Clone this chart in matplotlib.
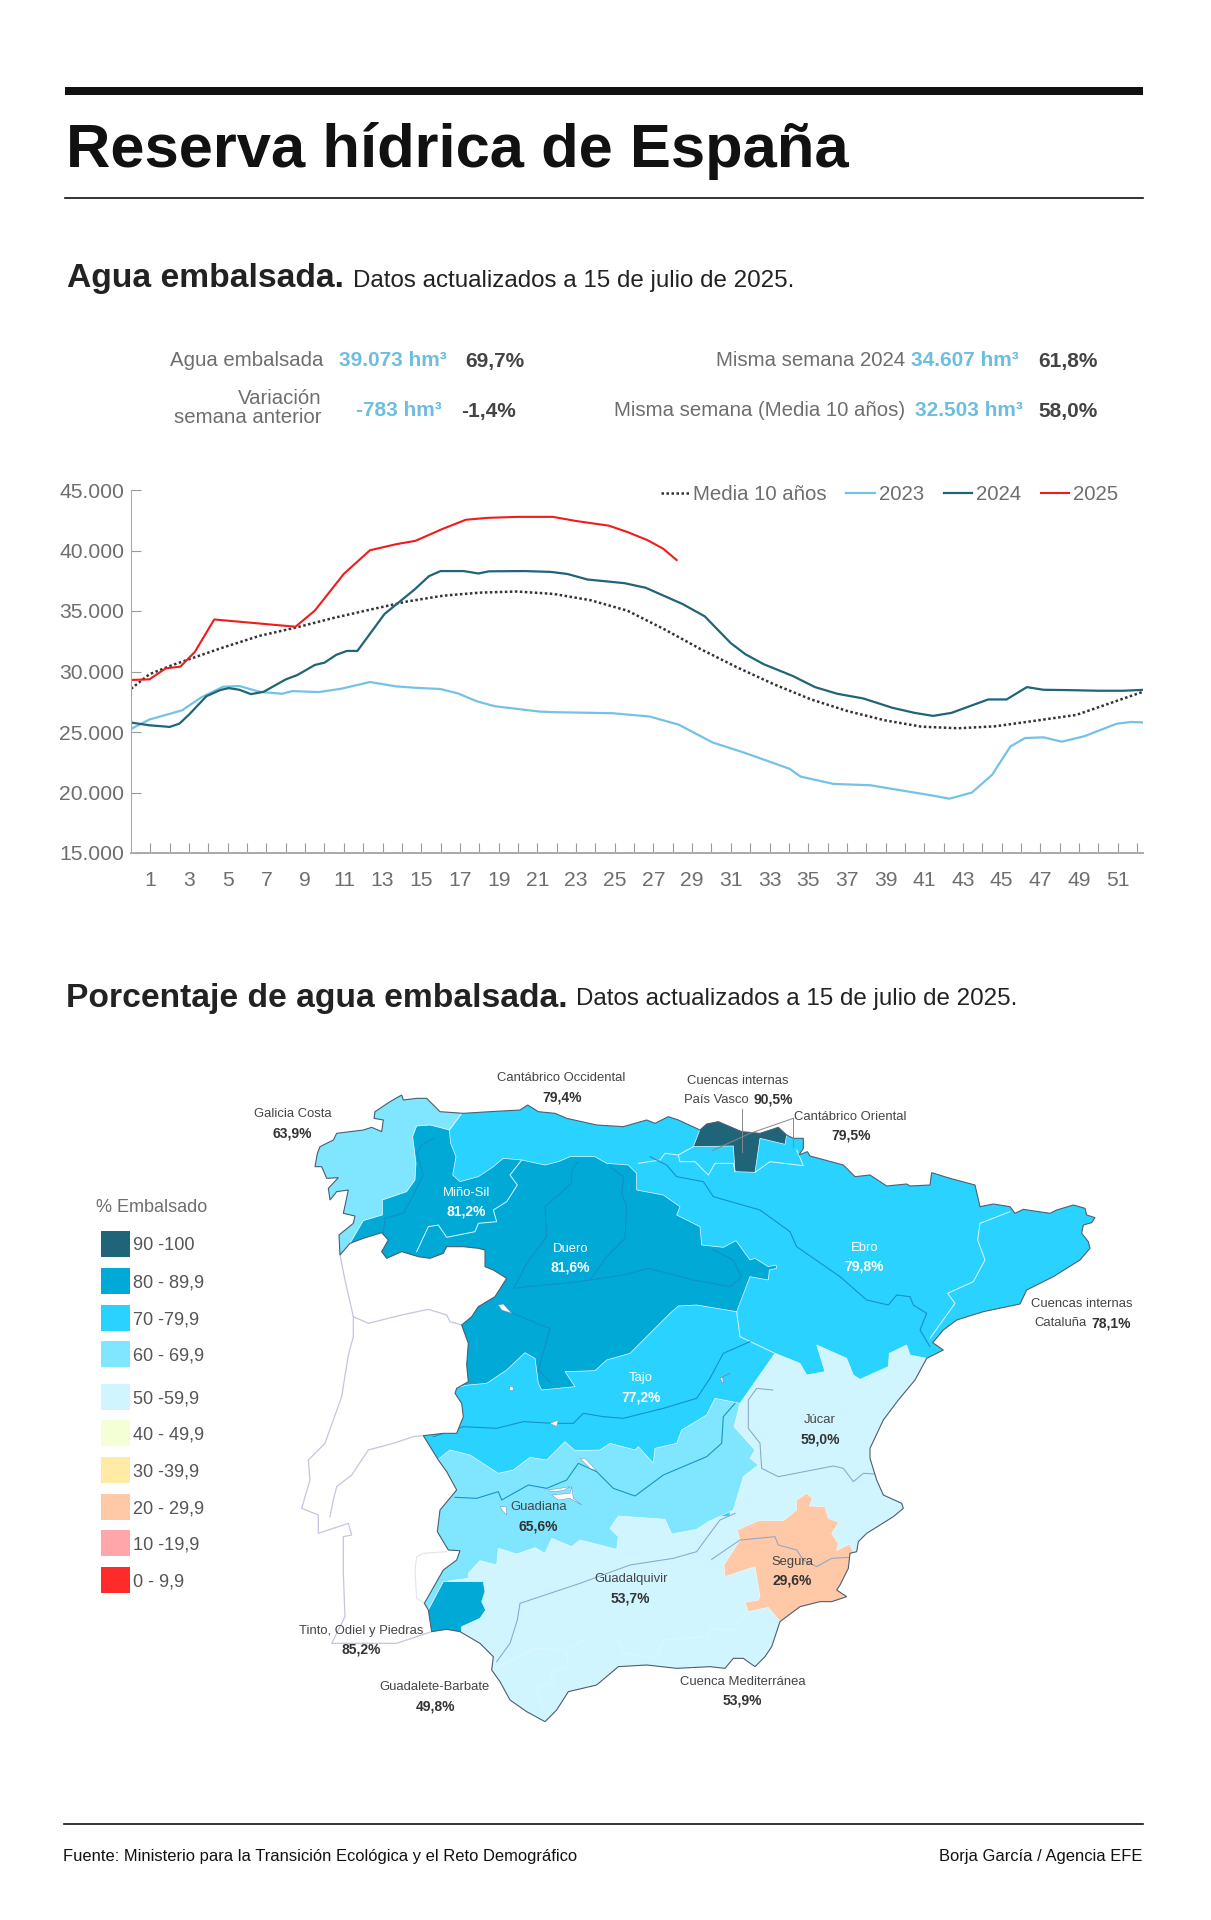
import matplotlib
matplotlib.use("Agg")
import matplotlib.pyplot as plt
from matplotlib.patches import Polygon, Rectangle

# --- chart data: (week position, hm3)
week_2023 = [0, .95, 2, 2.65, 3.6, 4.75, 5.6, 6.65, 7.8, 8.35, 9.7, 10.85, 12.35, 13.7, 14.65, 16, 16.9, 17.85,
             18.8, 21.1, 21.85, 24.9, 26.8, 28.3, 30.05, 31.75, 34.05, 34.6, 35.15, 36.3, 38.2, 41.45, 42.3,
             43.45, 44.5, 45.45, 46.2, 47.15, 48.1, 49.25, 50.95, 51.7, 52.4]
vals_2023 = [25250, 26030, 26500, 26800, 27830, 28740, 28800, 28320, 28160, 28380, 28300, 28570, 29130, 28770,
             28660, 28550, 28190, 27550, 27130, 26690, 26640, 26550, 26280, 25610, 24140, 23260, 21950, 21320,
             21120, 20710, 20600, 19740, 19490, 19990, 21460, 23810, 24500, 24560, 24200, 24640, 25690, 25830, 25780]
week_2024 = [0, .95, 2, 2.5, 3, 3.9, 4.6, 5.05, 5.6, 6.2, 6.85, 8, 8.6, 9.5, 10, 10.6, 11.15, 11.7, 13.1, 14.65,
             15.4, 16, 17.2, 17.95, 18.5, 20.35, 21.7, 22.55, 23.6, 24.5, 25.5, 26.6, 28.5, 29.65, 31, 31.75,
             32.7, 34.2, 35.35, 36.5, 37.85, 39.35, 40.5, 41.45, 42.4, 44.3, 45.25, 46.3, 47.15, 48.5, 50, 51.3, 52.4]
vals_2024 = [25780, 25555, 25420, 25690, 26440, 27960, 28460, 28630, 28490, 28130, 28320, 29350, 29710, 30540,
             30730, 31370, 31700, 31700, 34750, 36770, 37880, 38300, 38300, 38100, 38280, 38300, 38230, 38060,
             37600, 37460, 37300, 36920, 35580, 34560, 32340, 31430, 30600, 29630, 28710, 28160, 27770, 27000,
             26580, 26330, 26580, 27690, 27690, 28710, 28490, 28460, 28410, 28410, 28490]
week_2025 = [0, .95, 1.8, 2.55, 3.3, 4.3, 8.5, 9.5, 11, 12.35, 13.7, 14.7, 16.1, 17.3, 18.45, 20, 21.8, 23, 24.7,
             25.7, 26.7, 27.5, 28.2]
vals_2025 = [29300, 29350, 30260, 30400, 31620, 34300, 33700, 35030, 38070, 40020, 40520, 40800, 41780, 42540,
             42700, 42780, 42780, 42440, 42050, 41500, 40850, 40150, 39210]
week_media = [0, .95, 2.1, 3.25, 4.75, 6.65, 8.55, 10.45, 12.35, 14.25, 16.15, 18.05, 19.95, 21.85, 23.75, 25.65,
              27.55, 29.45, 31.35, 33.25, 35.15, 37.05, 38.95, 40.85, 42.75, 44.65, 46.55, 48.85, 50.4, 52.4]
vals_media = [28570, 29770, 30510, 31150, 31980, 32950, 33640, 34420, 35110, 35780, 36270, 36520, 36610, 36410,
              35890, 35030, 33500, 31840, 30320, 28930, 27690, 26720, 25970, 25440, 25310, 25470, 25890, 26410,
              27270, 28380]
y_ticks = [15000, 20000, 25000, 30000, 35000, 40000, 45000]
y_labels = ["15.000", "20.000", "25.000", "30.000", "35.000", "40.000", "45.000"]

legend_labels = ["90 -100", "80 - 89,9", "70 -79,9", "60 - 69,9", "50 -59,9", "40 - 49,9", "30 -39,9", "20 - 29,9",
                 "10 -19,9", "0 - 9,9"]
legend_colors = ["#1F6478", "#00A9D6", "#29D2FF", "#80E5FF", "#D1F5FF", "#F5FFD6", "#FFEBA6", "#FFC8A6", "#FFA6AB",
                 "#FF2A2A"]

# --- map outlines, in map units (3 units = 1 px)
coast = [(330, 615), (327, 555), (370, 520), (375, 498), (340, 490), (355, 420), (320, 425), (300, 450), (295, 415),
         (325, 383), (290, 385), (275, 350), (255, 350), (262, 310), (270, 290), (310, 270), (320, 250), (400, 240),
         (425, 232), (455, 245), (460, 210), (432, 205), (435, 185), (480, 155), (515, 135), (520, 150), (560, 145),
         (590, 145), (630, 185), (700, 190), (780, 185), (870, 180), (893, 165), (925, 185), (975, 190), (1010, 205),
         (1100, 225), (1180, 230), (1250, 210), (1275, 220), (1315, 200), (1345, 210), (1410, 240), (1430, 222),
         (1465, 215), (1535, 245), (1590, 250), (1645, 232), (1670, 255), (1690, 265), (1720, 265), (1720, 295),
         (1707, 315), (1732, 305), (1740, 318), (1840, 345), (1875, 380), (1920, 375), (1970, 408), (2030, 402),
         (2040, 408), (2100, 405), (2105, 368), (2160, 385), (2235, 405), (2250, 470), (2290, 462), (2340, 470),
         (2355, 490), (2380, 478), (2460, 490), (2480, 480), (2530, 465), (2565, 475), (2570, 495), (2595, 503),
         (2585, 518), (2560, 525), (2555, 550), (2575, 575), (2580, 595), (2550, 630), (2470, 680), (2390, 720),
         (2370, 762), (2260, 785), (2180, 810), (2140, 840), (2108, 878), (2140, 900), (2090, 925), (2055, 990),
         (2005, 1050), (1960, 1110), (1920, 1195), (1920, 1225), (1940, 1290), (1960, 1335), (2015, 1360),
         (2020, 1375), (1990, 1400), (1950, 1425), (1910, 1450), (1885, 1475), (1880, 1505), (1860, 1510),
         (1855, 1555), (1830, 1605), (1820, 1620), (1850, 1640), (1805, 1655), (1770, 1655), (1710, 1670),
         (1650, 1715), (1625, 1790), (1605, 1820), (1575, 1850), (1540, 1825), (1510, 1825), (1485, 1855),
         (1440, 1850), (1340, 1855), (1250, 1845), (1165, 1850), (1100, 1905), (1015, 1925), (980, 1980),
         (945, 2015), (890, 1985), (840, 1950), (810, 1895), (785, 1860), (790, 1820), (750, 1780), (690, 1745),
         (650, 1738), (605, 1745), (595, 1680), (583, 1660), (640, 1560), (680, 1530), (690, 1502), (655, 1500),
         (622, 1445), (630, 1380), (680, 1320), (650, 1265), (625, 1230), (580, 1157), (640, 1150), (680, 1150),
         (700, 1100), (695, 1060), (675, 1030), (680, 1015), (715, 995), (710, 945), (715, 880), (695, 825),
         (725, 800), (745, 770), (795, 740), (830, 685), (790, 660), (765, 650), (765, 600), (745, 595), (700, 590),
         (650, 590), (640, 610), (600, 625), (565, 620), (515, 605), (470, 625), (455, 605), (475, 570), (455, 548),
         (400, 565), (360, 580)]
galicia = [(695, 190), (658, 240), (600, 225), (560, 228), (548, 260), (558, 340), (555, 390), (530, 425), (457, 450),
           (457, 495), (400, 512), (360, 580), (325, 625), (200, 600), (200, 100), (695, 100)]
duero = [(600, 225), (560, 228), (548, 260), (558, 340), (555, 390), (530, 425), (457, 450), (457, 495), (400, 512),
         (360, 580), (340, 700), (600, 900), (690, 1010), (715, 1005), (770, 1000), (830, 960), (885, 908), (915, 925),
         (925, 1000), (935, 1020), (1035, 1010), (1005, 965), (1095, 962), (1130, 930), (1200, 910), (1260, 850),
         (1320, 790), (1345, 768), (1400, 765), (1520, 785), (1560, 680), (1615, 690), (1618, 660), (1640, 655),
         (1638, 645), (1615, 650), (1575, 625), (1560, 630), (1518, 572), (1480, 592), (1415, 585), (1410, 530),
         (1340, 495), (1350, 470), (1300, 435), (1220, 420), (1220, 370), (1195, 345), (1130, 340), (1095, 320),
         (1020, 320), (985, 335), (945, 345), (875, 330), (820, 325), (790, 350), (745, 380), (690, 395), (668, 375),
         (678, 320), (662, 280), (658, 240)]
south = [(1500, 1400), (1500, 1060), (1530, 1060), (1635, 910), (1710, 940), (1730, 975), (1785, 965), (1760, 885),
         (1850, 925), (1870, 975), (1890, 988), (1975, 950), (1978, 910), (2030, 885), (2040, 915), (2090, 925),
         (2200, 925), (2200, 2100), (400, 2100), (400, 1400)]
guadiana = [(622, 1230), (660, 1200), (720, 1215), (805, 1270), (850, 1260), (900, 1222), (950, 1230), (1005, 1175),
            (1035, 1202), (1110, 1200), (1140, 1180), (1215, 1200), (1225, 1190), (1270, 1240), (1275, 1195),
            (1340, 1180), (1355, 1140), (1430, 1095), (1455, 1045), (1530, 1060), (1512, 1130), (1575, 1200),
            (1560, 1225), (1585, 1245), (1540, 1280), (1510, 1380), (1435, 1415), (1400, 1438), (1325, 1452),
            (1305, 1408), (1165, 1398), (1140, 1435), (1165, 1460), (1160, 1498), (1050, 1470), (1025, 1490),
            (965, 1465), (945, 1510), (915, 1493), (860, 1512), (805, 1495), (800, 1545), (750, 1532), (715, 1570),
            (715, 1585), (640, 1595), (595, 1680), (500, 1680), (500, 1230)]
segura = [(1730, 1330), (1747, 1345), (1738, 1368), (1785, 1370), (1795, 1405), (1827, 1417), (1805, 1450),
          (1825, 1480), (1820, 1502), (1858, 1482), (1870, 1505), (1900, 1560), (1900, 1700), (1650, 1730),
          (1650, 1715), (1615, 1672), (1555, 1685), (1545, 1657), (1585, 1650), (1590, 1640), (1575, 1550),
          (1515, 1570), (1485, 1580), (1482, 1545), (1530, 1470), (1522, 1440), (1585, 1412), (1660, 1412),
          (1700, 1380), (1700, 1350)]
tinto = [(640, 1595), (760, 1595), (765, 1625), (755, 1655), (767, 1680), (750, 1705), (695, 1730), (695, 1760),
         (560, 1780), (560, 1680), (595, 1680)]
vasco = [(1390, 290), (1415, 225), (1430, 180), (1680, 180), (1670, 255), (1665, 283), (1590, 265), (1575, 367),
         (1515, 365), (1510, 288)]
lakes = [[(805, 765), (820, 762), (845, 790), (815, 780)],
         [(838, 1022), (850, 1020), (848, 1008), (840, 1010)],
         [(960, 1120), (985, 1110), (980, 1130)],
         [(1470, 985), (1500, 970), (1478, 980), (1480, 1002)],
         [(1050, 1225), (1065, 1225), (1100, 1262), (1080, 1255)],
         [(955, 1320), (990, 1315), (1020, 1310), (1000, 1322), (960, 1325)],
         [(965, 1335), (1020, 1330), (1025, 1310), (1030, 1345), (1055, 1365), (1020, 1345), (985, 1350)],
         [(810, 1370), (828, 1370), (830, 1395), (820, 1385)]]
white_lines = [
    [(875, 330), (840, 375), (862, 405), (830, 455), (790, 480), (800, 515), (745, 520), (735, 545), (650, 562),
     (625, 525), (595, 530), (560, 605)],
    [(1225, 340), (1290, 330), (1305, 310), (1345, 315), (1350, 335), (1395, 335), (1435, 375), (1455, 340),
     (1510, 340), (1515, 365)],
    [(1575, 367), (1620, 335), (1720, 347), (1700, 300)],
    [(1390, 290), (1345, 315)],
    [(2340, 485), (2250, 520), (2243, 570), (2265, 630), (2230, 695), (2153, 730), (2175, 760), (2100, 865)],
    [(1520, 785), (1530, 860), (1635, 910)],
    [(658, 240), (695, 190)],
    [(785, 1860), (920, 1795), (1010, 1800), (1015, 1850), (960, 1870), (970, 1895), (920, 1915), (940, 1980)],
    [(1020, 1795), (1060, 1770), (1160, 1770), (1185, 1810), (1280, 1825), (1300, 1770), (1430, 1760), (1440, 1735),
     (1510, 1740), (1550, 1685)]]
rivers_blue = [
    [(610, 265), (575, 285), (560, 310), (580, 375), (545, 445), (520, 490), (465, 505), (460, 548)],
    [(1045, 335), (1025, 360), (1025, 400), (945, 470), (950, 560), (890, 640), (870, 680), (850, 715), (890, 710),
     (1000, 700), (1080, 690), (1180, 675), (1255, 655), (1390, 690), (1500, 710), (1535, 680), (1510, 630), (1450, 600)],
    [(1140, 350), (1180, 380), (1175, 430), (1190, 470), (1185, 565), (1130, 620), (1080, 690)],
    [(850, 790), (920, 820), (960, 835), (945, 890), (925, 960), (960, 995)],
    [(1260, 320), (1310, 345), (1340, 380), (1420, 395), (1450, 440), (1520, 460), (1590, 480), (1680, 545), (1700, 590),
     (1830, 680), (1910, 750), (1975, 765), (2000, 735), (2040, 740), (2050, 765), (2090, 790), (2070, 840), (2100, 890)],
    [(1560, 875), (1480, 910), (1440, 985), (1400, 1045), (1300, 1075), (1260, 1085), (1180, 1105), (1120, 1100),
     (1060, 1090), (1030, 1120), (970, 1120), (880, 1115), (800, 1135), (700, 1130), (610, 1160)],
    [(1515, 1060), (1480, 1100), (1475, 1180), (1430, 1220), (1300, 1275), (1215, 1338), (1150, 1315), (1100, 1265),
     (1045, 1240), (1010, 1290), (950, 1315), (895, 1305), (815, 1350), (805, 1325), (740, 1345), (675, 1342)]]
rivers_grey = [
    [(1515, 1390), (1470, 1410), (1440, 1450), (1400, 1505), (1330, 1525), (1200, 1545), (1050, 1600), (870, 1660),
     (862, 1710), (840, 1780), (800, 1835)],
    [(1445, 1528), (1530, 1470), (1635, 1460), (1645, 1485), (1700, 1500), (1720, 1530), (1760, 1550), (1805, 1525),
     (1860, 1522)],
    [(1628, 1020), (1580, 1015), (1555, 1050), (1555, 1135), (1590, 1180), (1595, 1255), (1645, 1280), (1810, 1248),
     (1840, 1255), (1870, 1295), (1900, 1270), (1935, 1272)]]
portugal = [
    [(330, 615), (345, 690), (370, 800), (370, 860), (355, 915), (335, 1040), (285, 1180), (235, 1230), (240, 1290),
     (215, 1375), (265, 1395), (265, 1450), (355, 1420), (365, 1455), (340, 1460), (340, 1570), (345, 1700), (305, 1780),
     (500, 1780), (605, 1745)],
    [(370, 800), (415, 820), (515, 795), (595, 778), (650, 795), (660, 815), (695, 825)],
    [(580, 1157), (550, 1160), (490, 1180), (415, 1200), (365, 1275), (320, 1310), (310, 1350), (300, 1400)]]
estuary = [(583, 1660), (560, 1645), (555, 1560), (560, 1520), (580, 1510), (650, 1505)]
leaders = [[(1535, 178), (1535, 305)], [(1690, 205), (1560, 250), (1447, 302)], [(1690, 205), (1690, 290)]]

# labels: name, percent, x, y of name, colour
basin_labels = [("Galicia Costa", "63,9%", 187, 192, "#444444"), ("Cantábrico Occidental", "79,4%", 995, 85, "#444444"),
                ("Cantábrico Oriental", "79,5%", 1862, 200, "#444444"), ("Miño-Sil", "81,2%", 710, 428, "white"),
                ("Duero", "81,6%", 1022, 597, "white"), ("Ebro", "79,8%", 1903, 593, "white"),
                ("Tajo", "77,2%", 1232, 985, "white"), ("Júcar", "59,0%", 1770, 1110, "#444444"),
                ("Guadiana", "65,6%", 925, 1372, "#444444"), ("Guadalquivir", "53,7%", 1202, 1588, "#444444"),
                ("Segura", "29,6%", 1687, 1535, "#444444"), ("Tinto, Odiel y Piedras", "85,2%", 393, 1742, "#444444"),
                ("Guadalete-Barbate", "49,8%", 615, 1912, "#444444"),
                ("Cuenca Mediterránea", "53,9%", 1538, 1895, "#444444")]

font = "Liberation Sans"
grey = "#6E6E6E"
sky = "#6DBDE0"

fig = plt.figure(figsize=(12.11, 19.20), dpi=100)
W, H = 1211, 1920

# page layer in pixels
page = fig.add_axes([0, 0, 1, 1])
page.set_xlim(0, W)
page.set_ylim(H, 0)
page.axis("off")

page.add_patch(Rectangle((65, 87), 1078, 8, color="#111111", lw=0))
page.plot([65, 1143], [198, 198], color="#111111", lw=1.2)
page.plot([64, 1143], [1824, 1824], color="#111111", lw=1.2)
page.text(66, 151, "Reserva hídrica de España", family=font, weight="bold", size=44.3, color="#111111", va="center")
page.text(67, 279, "Agua embalsada.", family=font, weight="bold", size=24.2, color="#222222", va="center")
page.text(353, 281, "Datos actualizados a 15 de julio de 2025.", family=font, size=17.4, color="#222222", va="center")
page.text(66, 998, "Porcentaje de agua embalsada.", family=font, weight="bold", size=24.2, color="#222222", va="center")
page.text(576, 999, "Datos actualizados a 15 de julio de 2025.", family=font, size=17.4, color="#222222", va="center")

# resumen
for txt, x, y in [("Agua embalsada", 323, 361), ("Misma semana 2024", 905, 361),
                  ("Misma semana (Media 10 años)", 905, 411)]:
    page.text(x, y, txt, family=font, size=14.7, color=grey, ha="right", va="center")
page.text(322, 408, "Variación\nsemana anterior", family=font, size=14.7, color=grey, ha="right", va="center",
          linespacing=0.95)
for txt, x, y in [("39.073 hm³", 339, 361), ("-783 hm³", 356, 411), ("34.607 hm³", 911, 361), ("32.503 hm³", 915, 411)]:
    page.text(x, y, txt, family=font, weight="bold", size=15, color=sky, va="center")
for txt, x, y in [("69,7%", 465, 361), ("-1,4%", 461, 411), ("61,8%", 1038, 361), ("58,0%", 1038, 411)]:
    page.text(x, y, txt, family=font, weight="bold", size=15, color="#444444", va="center")

# leyenda del mapa
page.text(96, 1207, "% Embalsado", family=font, size=13, color=grey, va="center")
legend_tops = [1231, 1268, 1305, 1341, 1384, 1420, 1457, 1494, 1530, 1567]
for top, lab, col in zip(legend_tops, legend_labels, legend_colors):
    page.add_patch(Rectangle((101, top), 28.5, 26, color=col, lw=0))
    page.text(133, top + 15, lab, family=font, size=13.1, color="#555555", va="center")

page.text(63, 1857, "Fuente: Ministerio para la Transición Ecológica y el Reto Demográfico", family=font, size=11.9,
          color="#111111", va="center")
page.text(1142, 1857, "Borja García / Agencia EFE", family=font, size=11.9, color="#111111", ha="right", va="center")

# grafico de lineas
ax = fig.add_axes([131 / W, 1 - 853 / H, (1143 - 131) / W, (853 - 490) / H])
ax.patch.set_alpha(0)
ax.plot(week_media, vals_media, color="#333333", lw=1.8, ls=(0, (1, 1)), label="Media 10 años")
ax.plot(week_2023, vals_2023, color="#74C2E6", lw=1.6, label="2023")
ax.plot(week_2024, vals_2024, color="#1F6478", lw=1.6, label="2024")
ax.plot(week_2025, vals_2025, color="#F01C1C", lw=1.5, label="2025")
ax.set_xlim(0, 52.3)
ax.set_ylim(15000, 45000)
ax.set_yticks(y_ticks)
ax.set_yticklabels(y_labels)
ax.set_xticks(range(1, 53))
ax.set_xticklabels([str(w) if w % 2 else "" for w in range(1, 53)])
ax.tick_params(axis="y", direction="in", length=7, width=0.8, color="#999999", labelcolor=grey, pad=5)
ax.tick_params(axis="x", direction="in", length=7, width=0.8, color="#999999", labelcolor=grey, pad=13)
for lab in ax.get_xticklabels() + ax.get_yticklabels():
    lab.set_family(font)
    lab.set_size(15.2)
ax.spines["top"].set_visible(False)
ax.spines["right"].set_visible(False)
ax.spines["left"].set_color("#AAAAAA")
ax.spines["left"].set_linewidth(0.8)
ax.spines["bottom"].set_color("#AAAAAA")
ax.spines["bottom"].set_linewidth(1.4)
ax.legend(loc="upper right", bbox_to_anchor=(0.994, 1.064), ncol=4, frameon=False, handlelength=1.4, handletextpad=0.2,
          columnspacing=0.95, labelcolor=grey, prop={"family": font, "size": 14.7})

# mapa: 3 unidades = 1 px
m = fig.add_axes([230 / W, 1 - 1750 / H, 900 / W, 700 / H])
m.set_xlim(0, 2700)
m.set_ylim(2100, 0)
m.axis("off")

for line in portugal:
    m.plot(*zip(*line), color="#C3C6DE", lw=0.9, zorder=1)
m.plot(*zip(*estuary), color="#E2E4EF", lw=0.8, zorder=1)

outline = Polygon(coast, closed=True, facecolor="#29D2FF", edgecolor="none", zorder=2)
m.add_patch(outline)
for poly, col in [(galicia, "#80E5FF"), (south, "#D1F5FF"), (guadiana, "#80E5FF"), (duero, "#00A9D6"),
                  (segura, "#FFC8A6"), (tinto, "#00A9D6"), (vasco, "#1F6478")]:
    p = Polygon(poly, closed=True, facecolor=col, edgecolor="#E8FAFF", lw=0.5, zorder=3)
    m.add_patch(p)
    p.set_clip_path(outline)
for line in white_lines:
    ln, = m.plot(*zip(*line), color="#DDF7FF", lw=0.7, zorder=4)
    ln.set_clip_path(outline)
for line in rivers_blue:
    ln, = m.plot(*zip(*line), color="#138FC2", lw=0.75, zorder=4)
    ln.set_clip_path(outline)
for line in rivers_grey:
    ln, = m.plot(*zip(*line), color="#8BA5CC", lw=0.75, zorder=4)
    ln.set_clip_path(outline)
for lake in lakes:
    m.add_patch(Polygon(lake, closed=True, facecolor="white", edgecolor="#6F7F9F", lw=0.3, zorder=5))
m.add_patch(Polygon(coast, closed=True, fill=False, edgecolor="#4F5F70", lw=0.8, zorder=6))
for line in leaders:
    m.plot(*zip(*line), color="#888888", lw=0.7, zorder=7)

for name, pct, x, y, col in basin_labels:
    m.text(x, y, name, family=font, size=9.4, color=col, ha="center", va="center", zorder=8)
    m.text(x, y + 57, pct, family=font, weight="bold", size=10, color=col if col == "white" else "#333333",
           ha="center", va="center", zorder=8)
m.text(1522, 93, "Cuencas internas", family=font, size=9.4, color="#444444", ha="center", va="center")
m.text(1557, 150, "País Vasco", family=font, size=9.4, color="#444444", ha="right", va="center")
m.text(1570, 150, "90,5%", family=font, weight="bold", size=10, color="#333333", va="center")
m.text(2555, 762, "Cuencas internas", family=font, size=9.4, color="#444444", ha="center", va="center")
m.text(2570, 820, "Cataluña", family=font, size=9.4, color="#444444", ha="right", va="center")
m.text(2585, 820, "78,1%", family=font, weight="bold", size=10, color="#333333", va="center")

fig.savefig("out.png", dpi=100)
